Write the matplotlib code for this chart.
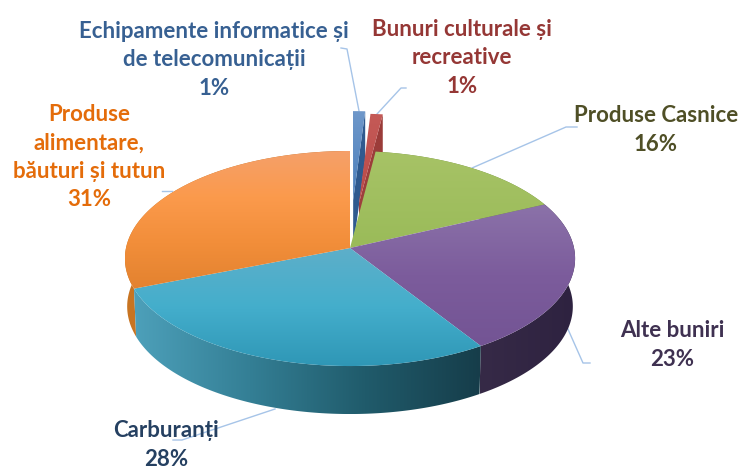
import numpy as np
import matplotlib
matplotlib.use("Agg")
import matplotlib.pyplot as plt
from matplotlib.patches import Polygon
from matplotlib.colors import LinearSegmentedColormap

plt.rcParams["font.family"] = ["Lato", "Open Sans", "DejaVu Sans"]

names = ["Echipamente informatice și\nde telecomunicații", "Bunuri culturale și\nrecreative",
         "Produse Casnice", "Alte buniri", "Carburanți", "Produse\nalimentare,\nbăuturi și tutun"]
values = [1, 1, 16, 23, 28, 31]
explode = [0.47, 0.44, 0, 0, 0, 0]
text_colors = ["#376092", "#953735", "#4f4f26", "#3f3151", "#254061", "#e46c0a"]

# top surface gradients, top to bottom
top_stops = [["#6f98ca", "#4a7ebb"], ["#c45a57", "#bb4a47"],
             ["#a7c366", "#9abb59"], ["#8b72a9", "#7c5c9c", "#735494"],
             ["#5eafc9", "#44aecc", "#2f97b6"], ["#f5a06a", "#fb9a4c", "#f28e3a", "#e3822f"]]
side_stops = [["#2f5a8f", "#2f5a8f"], ["#9a3b38", "#a04240"],
              ["#6d8a3a", "#6d8a3a"], ["#362a47", "#2e2240"],
              ["#4da0ba", "#347f95", "#205b6b", "#163d4a"], ["#c97522", "#b8691f"]]

# projection of the tilted disc into pixels
CX, CY, RX, RY, P = 350, 248, 224, 106.5, 0.0977
DEPTH, SHRINK = 48, 0.99


def project(u, v):
    w = 1 + P * v
    return CX + RX * u / w, CY - RY * v / w


def arc(t0, t1, off=(0, 0)):
    t = np.radians(np.linspace(t0, t1, 120))
    return project(off[0] + np.sin(t), off[1] + np.cos(t))


def lower(x, y):
    return CX + (x - CX) * SHRINK, y + DEPTH


fig = plt.figure(figsize=(7.38, 4.69), dpi=100)
ax = fig.add_axes([0, 0, 1, 1])


def grad_poly(xs, ys, stops, vertical=True, z=2):
    pts = np.column_stack([xs, ys])
    poly = Polygon(pts, closed=True, fc="none", ec="none")
    ax.add_patch(poly)
    n = 256
    vals = np.linspace(0, 1, n).reshape(-1, 1) if vertical else np.linspace(0, 1, n).reshape(1, -1)
    cmap = LinearSegmentedColormap.from_list("g", stops)
    im = ax.imshow(vals, extent=(xs.min(), xs.max(), ys.max(), ys.min()), origin="upper",
                   cmap=cmap, aspect="auto", interpolation="bilinear", zorder=z)
    im.set_clip_path(poly)


edges = np.concatenate([[0], np.cumsum(values)]) / np.sum(values) * 360

# leader lines
leaders = [([341, 347, 359], [48, 49, 111]), ([406, 401, 377], [88, 88, 114]),
           ([577, 566, 472], [127, 127, 168]), ([567, 583, 590], [327, 363, 363]),
           ([275, 182, 173], [409, 440, 440]), ([162, 172], [191, 191])]
for lx, ly in leaders:
    ax.plot(lx, ly, color="#a6c4e8", lw=1, zorder=1)

# exploded slices first, they sit behind the disc
z = 2
for i in [0, 1]:
    mid = np.radians((edges[i] + edges[i + 1]) / 2)
    off = (explode[i] * np.sin(mid), explode[i] * np.cos(mid))
    ax_, ay_ = project(*off)
    xa, ya = arc(edges[i], edges[i + 1], off)
    # radial face on the right of the slice
    fx = np.array([ax_, xa[-1], xa[-1], ax_])
    fy = np.array([ay_, ya[-1], ya[-1] + DEPTH, ay_ + DEPTH])
    grad_poly(fx, fy, side_stops[i], z=z)
    grad_poly(np.r_[ax_, xa], np.r_[ay_, ya], top_stops[i], z=z + 1)
    z += 2

# outer walls of the disc
for i, z in zip([2, 5, 3, 4], [6, 7, 8, 9]):
    xa, ya = arc(edges[i], edges[i + 1])
    xb, yb = lower(xa, ya)
    grad_poly(np.r_[xa, xb[::-1]], np.r_[ya, yb[::-1]], side_stops[i], vertical=False, z=z)

# top surface
for i in [2, 3, 4, 5]:
    xa, ya = arc(edges[i], edges[i + 1])
    grad_poly(np.r_[CX, xa], np.r_[CY, ya], top_stops[i], z=10 + i)

# labels
label_pos = [(214, 60), (462, 58), (656, 130), (672, 345), (166, 445), (89, 157)]
for name, v, col, (tx, ty) in zip(names, values, text_colors, label_pos):
    ax.text(tx, ty, f"{name}\n{v}%", color=col, ha="center", va="center",
            fontsize=16, fontweight="bold", linespacing=1.44, zorder=20)

ax.set_xlim(0, 738)
ax.set_ylim(469, 0)
ax.axis("off")
fig.savefig("out.png", dpi=100)
